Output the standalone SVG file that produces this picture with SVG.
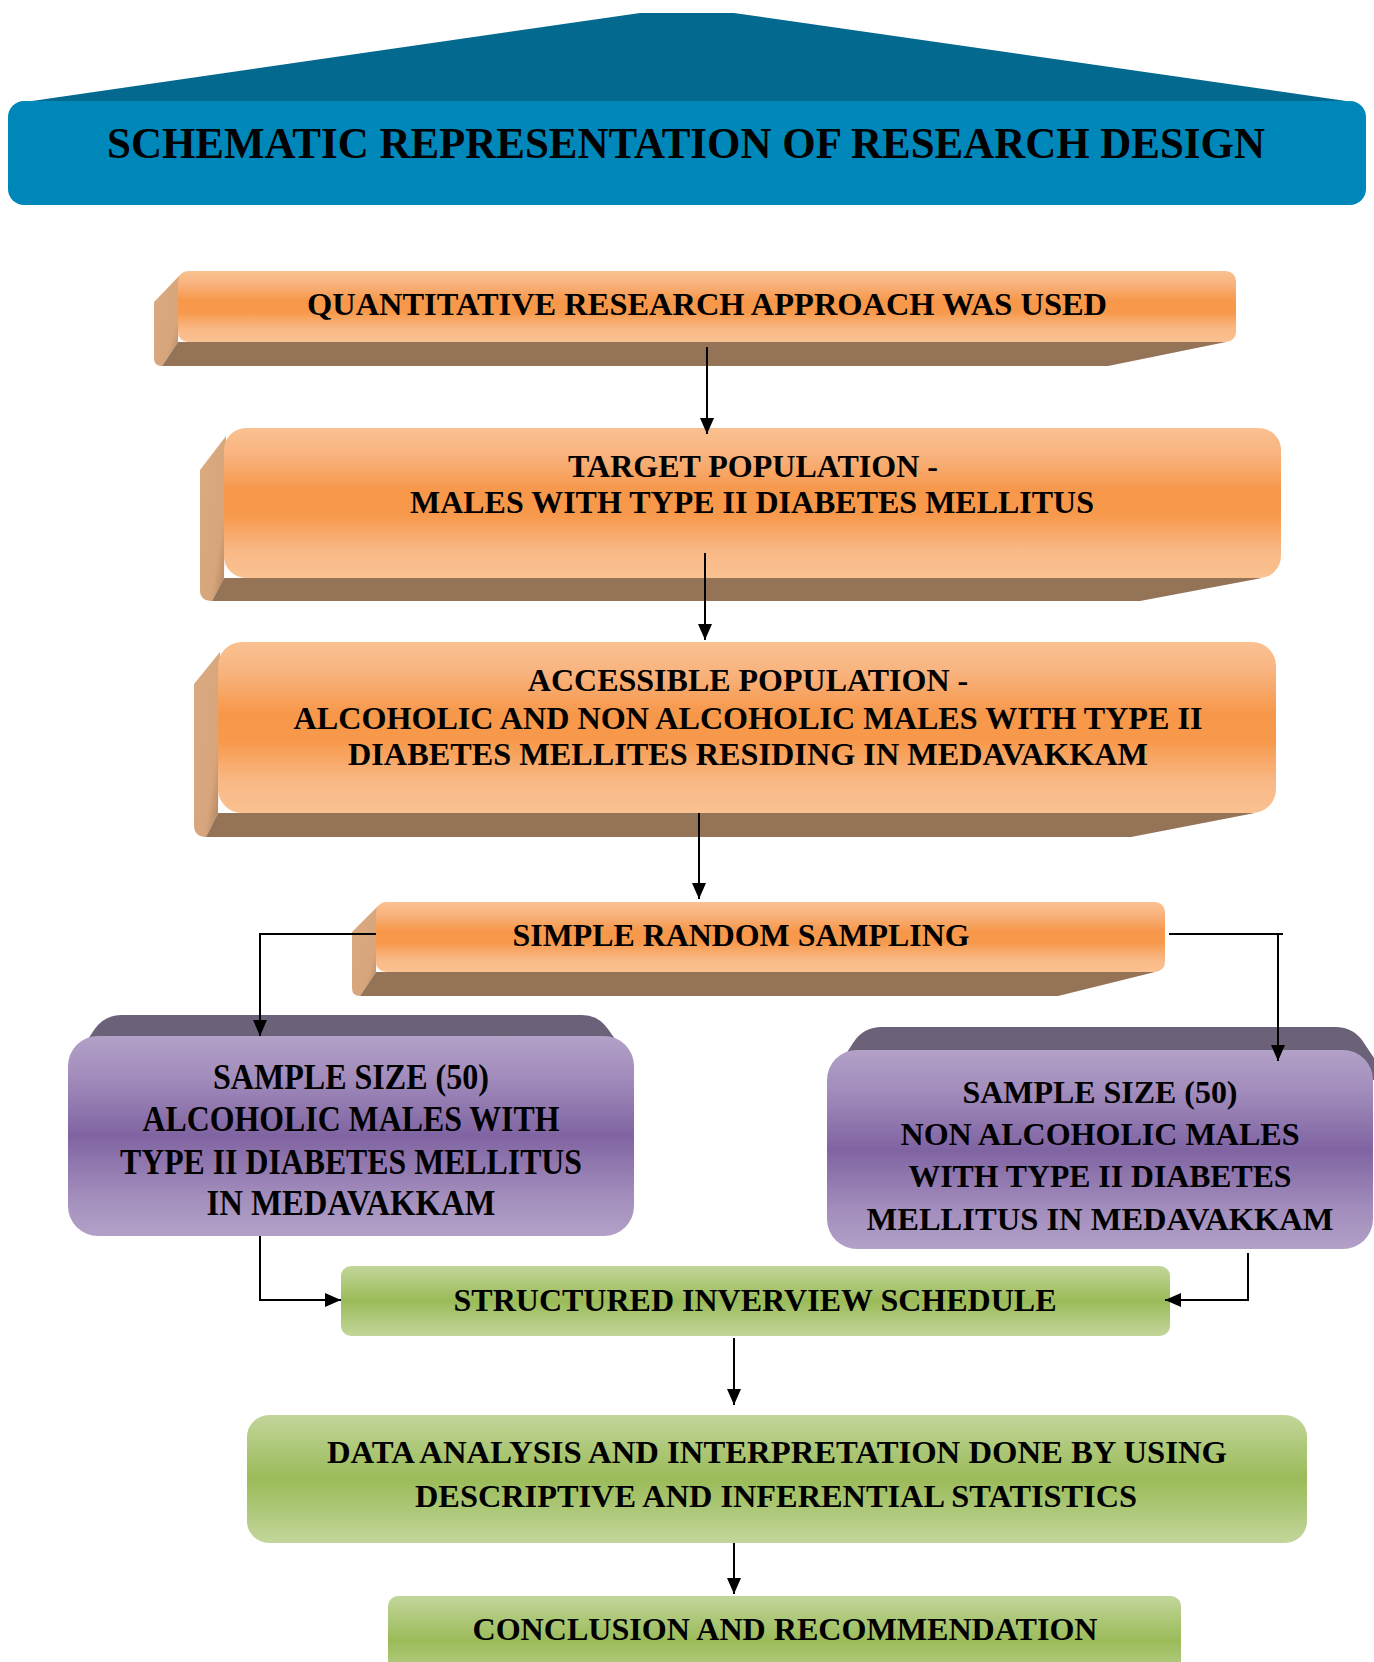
<svg xmlns="http://www.w3.org/2000/svg" width="1374" height="1662" viewBox="0 0 1374 1662">
<defs>
<linearGradient id="gOr" x1="0" y1="0" x2="0" y2="1">
<stop offset="0" stop-color="#fac191"/><stop offset="0.18" stop-color="#f8b37e"/><stop offset="0.42" stop-color="#f7974a"/><stop offset="0.58" stop-color="#f7994c"/><stop offset="0.82" stop-color="#f9b986"/><stop offset="1" stop-color="#fac191"/>
</linearGradient>
<linearGradient id="gTan" x1="0" y1="0" x2="1" y2="1">
<stop offset="0" stop-color="#dcaa80"/><stop offset="0.7" stop-color="#d7a57b"/><stop offset="1" stop-color="#a77e5c"/>
</linearGradient>
<linearGradient id="gPu" x1="0" y1="0" x2="0" y2="1">
<stop offset="0" stop-color="#b2a1c7"/><stop offset="0.2" stop-color="#a28dbc"/><stop offset="0.5" stop-color="#8064a2"/><stop offset="0.8" stop-color="#a28dbc"/><stop offset="1" stop-color="#b2a1c7"/>
</linearGradient>
<linearGradient id="gGr" x1="0" y1="0" x2="0" y2="1">
<stop offset="0" stop-color="#c3d69b"/><stop offset="0.2" stop-color="#b2cb80"/><stop offset="0.5" stop-color="#9bbb59"/><stop offset="0.8" stop-color="#b2cb80"/><stop offset="1" stop-color="#c3d69b"/>
</linearGradient>
<marker id="ah" viewBox="0 0 16 14" refX="16" refY="7" markerWidth="16" markerHeight="14" markerUnits="userSpaceOnUse" orient="auto">
<path d="M0,0 L16,7 L0,14 Z" fill="#000"/>
</marker>
</defs>
<style>
text{font-family:"Liberation Serif","Times New Roman",serif;font-weight:bold;fill:#000;text-anchor:middle}
.t32{font-size:32px}
.t34{font-size:35px}
.side{fill:url(#gTan)}
.bot{fill:#957356}
.front{fill:url(#gOr)}
.ptop{fill:#6b6179}
.pfront{fill:url(#gPu)}
.gfront{fill:url(#gGr)}
.conn{fill:none;stroke:#000;stroke-width:2}
</style>

<g id="header">
<polygon points="32,101 640,13 734,13 1346,101" fill="#03698f"/>
<rect x="8" y="101" width="1358" height="104" rx="16" fill="#0087b9"/>
<text x="686" y="158" style="font-size:45px" textLength="1158" lengthAdjust="spacingAndGlyphs">SCHEMATIC REPRESENTATION OF RESEARCH DESIGN</text>
</g>

<g id="n1">
<path class="side" d="M180,275 L154,302 L154,358 Q154,366 162,366 L178,342 Z"/>
<path class="bot" d="M178,342 L162,366 L1108,366 L1226,342 Z"/>
<rect class="front" x="178" y="271" width="1058" height="71" rx="10"/>
<text class="t32" x="707" y="315" textLength="800" lengthAdjust="spacingAndGlyphs">QUANTITATIVE RESEARCH APPROACH WAS USED</text>
</g>

<g id="n2">
<path class="side" d="M226,436 L200,470 L200,590 Q200,601 212,601 L224,578 Z"/>
<path class="bot" d="M224,578 L212,601 L1140,601 L1262,578 Z"/>
<rect class="front" x="224" y="428" width="1057" height="150" rx="22"/>
<text class="t32" x="753" y="477">TARGET POPULATION -</text>
<text class="t32" x="752" y="513" textLength="684" lengthAdjust="spacingAndGlyphs">MALES WITH TYPE II DIABETES MELLITUS</text>
</g>

<g id="n3">
<path class="side" d="M220,652 L194,684 L194,825 Q194,837 206,837 L218,813 Z"/>
<path class="bot" d="M218,813 L206,837 L1131,837 L1255,813 Z"/>
<rect class="front" x="218" y="642" width="1058" height="171" rx="24"/>
<text class="t32" x="748" y="691">ACCESSIBLE POPULATION -</text>
<text class="t32" x="748" y="729" textLength="909" lengthAdjust="spacingAndGlyphs">ALCOHOLIC AND NON ALCOHOLIC MALES WITH TYPE II</text>
<text class="t32" x="748" y="765" textLength="800" lengthAdjust="spacingAndGlyphs">DIABETES MELLITES RESIDING IN MEDAVAKKAM</text>
</g>

<g id="n4">
<path class="side" d="M378,906 L352,932 L352,988 Q352,996 360,996 L376,972 Z"/>
<path class="bot" d="M376,972 L360,996 L1058,996 L1155,972 Z"/>
<rect class="front" x="376" y="902" width="789" height="70" rx="10"/>
<text class="t32" x="741" y="946" textLength="457" lengthAdjust="spacingAndGlyphs">SIMPLE RANDOM SAMPLING</text>
</g>

<g id="n5">
<path class="ptop" d="M68,1070 L94,1030 Q104,1015 122,1015 L582,1015 Q598,1015 608,1029 L634,1066 Z"/>
<rect class="pfront" x="68" y="1036" width="566" height="200" rx="30"/>
<text class="t34" x="351" y="1089" textLength="276" lengthAdjust="spacingAndGlyphs">SAMPLE SIZE (50)</text>
<text class="t34" x="351" y="1131" textLength="417" lengthAdjust="spacingAndGlyphs">ALCOHOLIC MALES WITH</text>
<text class="t34" x="351" y="1174" textLength="462" lengthAdjust="spacingAndGlyphs">TYPE II DIABETES MELLITUS</text>
<text class="t34" x="351" y="1215" textLength="289" lengthAdjust="spacingAndGlyphs">IN MEDAVAKKAM</text>
</g>

<g id="n6">
<path class="ptop" d="M827,1084 L853,1043 Q863,1027 882,1027 L1335,1027 Q1352,1027 1362,1040 L1374,1058 L1374,1080 Z"/>
<rect class="pfront" x="827" y="1050" width="546" height="199" rx="30"/>
<text class="t32" x="1100" y="1103" textLength="275" lengthAdjust="spacingAndGlyphs">SAMPLE SIZE (50)</text>
<text class="t32" x="1100" y="1145" textLength="399" lengthAdjust="spacingAndGlyphs">NON ALCOHOLIC MALES</text>
<text class="t32" x="1100" y="1187" textLength="383" lengthAdjust="spacingAndGlyphs">WITH TYPE II DIABETES</text>
<text class="t32" x="1100" y="1230" textLength="467" lengthAdjust="spacingAndGlyphs">MELLITUS IN MEDAVAKKAM</text>
</g>

<g id="n7">
<rect class="gfront" x="341" y="1266" width="829" height="70" rx="10"/>
<text class="t32" x="755" y="1311" textLength="603" lengthAdjust="spacingAndGlyphs">STRUCTURED INVERVIEW SCHEDULE</text>
</g>

<g id="n8">
<rect class="gfront" x="247" y="1415" width="1060" height="128" rx="22"/>
<text class="t32" x="777" y="1463" textLength="900" lengthAdjust="spacingAndGlyphs">DATA ANALYSIS AND INTERPRETATION DONE BY USING</text>
<text class="t32" x="776" y="1507" textLength="722" lengthAdjust="spacingAndGlyphs">DESCRIPTIVE AND INFERENTIAL STATISTICS</text>
</g>

<g id="n9">
<rect class="gfront" x="388" y="1596" width="793" height="90" rx="10"/>
<text class="t32" x="785" y="1640" textLength="625" lengthAdjust="spacingAndGlyphs">CONCLUSION AND RECOMMENDATION</text>
</g>

<g id="connectors">
<path class="conn" d="M707,347 L707,434" marker-end="url(#ah)"/>
<path class="conn" d="M705,553 L705,640" marker-end="url(#ah)"/>
<path class="conn" d="M699,813 L699,899" marker-end="url(#ah)"/>
<path class="conn" d="M376,934 L260,934 L260,1036" marker-end="url(#ah)"/>
<path class="conn" d="M1169,934 L1283,934"/>
<path class="conn" d="M1278,934 L1278,1061" marker-end="url(#ah)"/>
<path class="conn" d="M260,1236 L260,1300 L341,1300" marker-end="url(#ah)"/>
<path class="conn" d="M1248,1253 L1248,1300 L1165,1300" marker-end="url(#ah)"/>
<path class="conn" d="M734,1338 L734,1405" marker-end="url(#ah)"/>
<path class="conn" d="M734,1543 L734,1594" marker-end="url(#ah)"/>
</g>
</svg>
